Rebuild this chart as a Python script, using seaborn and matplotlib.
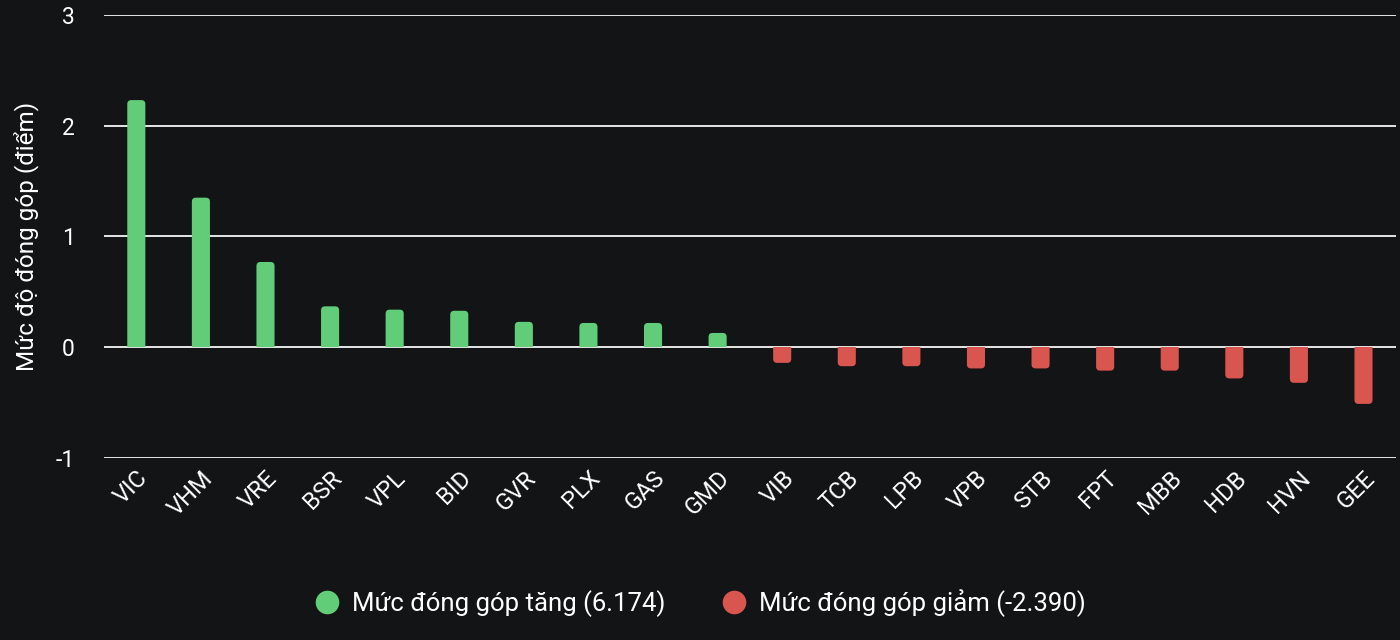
import seaborn as sns
import matplotlib.pyplot as plt
import pandas as pd
from matplotlib.patches import FancyBboxPatch, Rectangle
from matplotlib.lines import Line2D

# values
tickers = ["VIC", "VHM", "VRE", "BSR", "VPL", "BID", "GVR", "PLX", "GAS", "GMD",
           "VIB", "TCB", "LPB", "VPB", "STB", "FPT", "MBB", "HDB", "HVN", "GEE"]
contrib = [2.23, 1.35, 0.77, 0.37, 0.34, 0.33, 0.23, 0.22, 0.22, 0.13,
           -0.14, -0.17, -0.17, -0.19, -0.19, -0.21, -0.21, -0.28, -0.32, -0.51]
total_up = 6.174
total_down = -2.390

BG = "#131416"
GREEN = "#62cd79"
RED = "#d95550"
FG = "#ffffff"

df = pd.DataFrame({"ticker": tickers, "value": contrib})
df["group"] = ["up" if v >= 0 else "down" for v in contrib]

sns.set_theme(style="dark")
plt.rcParams["font.family"] = ["Roboto", "DejaVu Sans"]
plt.rcParams["axes.unicode_minus"] = False

fig = plt.figure(figsize=(14, 6.4), dpi=100, facecolor=BG)
ax = fig.add_axes([0.0743, 0.284, 0.9227, 0.693])
ax.set_facecolor(BG)

sns.barplot(data=df, x="ticker", y="value", hue="group",
            palette={"up": GREEN, "down": RED}, dodge=False, width=0.28,
            legend=False, ax=ax, saturation=1, linewidth=0, edgecolor="none")

ax.set_xlim(-0.5, len(tickers) - 0.5)
ax.set_ylim(-1, 3)
ax.set_yticks([-1, 0, 1, 2, 3])

# redraw each bar with a rounded outer end (base stays square via clipping)
fig.canvas.draw()
bb = ax.get_window_extent()
xpp = (ax.get_xlim()[1] - ax.get_xlim()[0]) / bb.width
ypp = (ax.get_ylim()[1] - ax.get_ylim()[0]) / bb.height
r = 4 * xpp
ry = 4 * ypp
for p in list(ax.patches):
    x, y0, w, h = p.get_x(), p.get_y(), p.get_width(), p.get_height()
    p.set_visible(False)
    if h == 0:
        continue
    if h > 0:
        box = (x, y0 - ry), w, h + ry
        clip = Rectangle((x - 0.1, y0), w + 0.2, h + 1, transform=ax.transData)
    else:
        box = (x, y0 + h), w, -h + ry
        clip = Rectangle((x - 0.1, y0 + h - 1), w + 0.2, -h + 1, transform=ax.transData)
    rb = FancyBboxPatch(box[0], box[1], box[2],
                        boxstyle=f"round,pad=0,rounding_size={r}",
                        mutation_aspect=ypp / xpp, linewidth=0,
                        facecolor=p.get_facecolor(), edgecolor="none", zorder=3)
    ax.add_patch(rb)
    rb.set_clip_path(clip)

ax.grid(axis="y", color="#e6e6e6", linewidth=1.4, zorder=0)
ax.grid(axis="x", visible=False)
ax.set_axisbelow(True)
for s in ax.spines.values():
    s.set_visible(False)

ax.tick_params(axis="y", colors=FG, labelsize=16.5, pad=21, length=0)
ax.tick_params(axis="x", colors=FG, labelsize=17, pad=6, length=0)
for lbl in ax.get_xticklabels():
    lbl.set_rotation(45)
    lbl.set_ha("right")
    lbl.set_rotation_mode("anchor")

ax.set_xlabel("")
ax.set_ylabel("Mức độ đóng góp (điểm)", color=FG, fontsize=17.5, labelpad=12)

handles = [
    Line2D([], [], marker="o", linestyle="none", markersize=17,
           markerfacecolor=GREEN, markeredgecolor="none"),
    Line2D([], [], marker="o", linestyle="none", markersize=17,
           markerfacecolor=RED, markeredgecolor="none"),
]
labels = [f"Mức đóng góp tăng ({total_up:.3f})",
          f"Mức đóng góp giảm ({total_down:.3f})"]
fig.legend(handles, labels, loc="center", bbox_to_anchor=(0.5, 0.058), ncol=2,
           frameon=False, fontsize=18.5, labelcolor=FG, handlelength=1.0,
           handletextpad=0.45, columnspacing=2.2)

fig.savefig("out.png", facecolor=BG)
